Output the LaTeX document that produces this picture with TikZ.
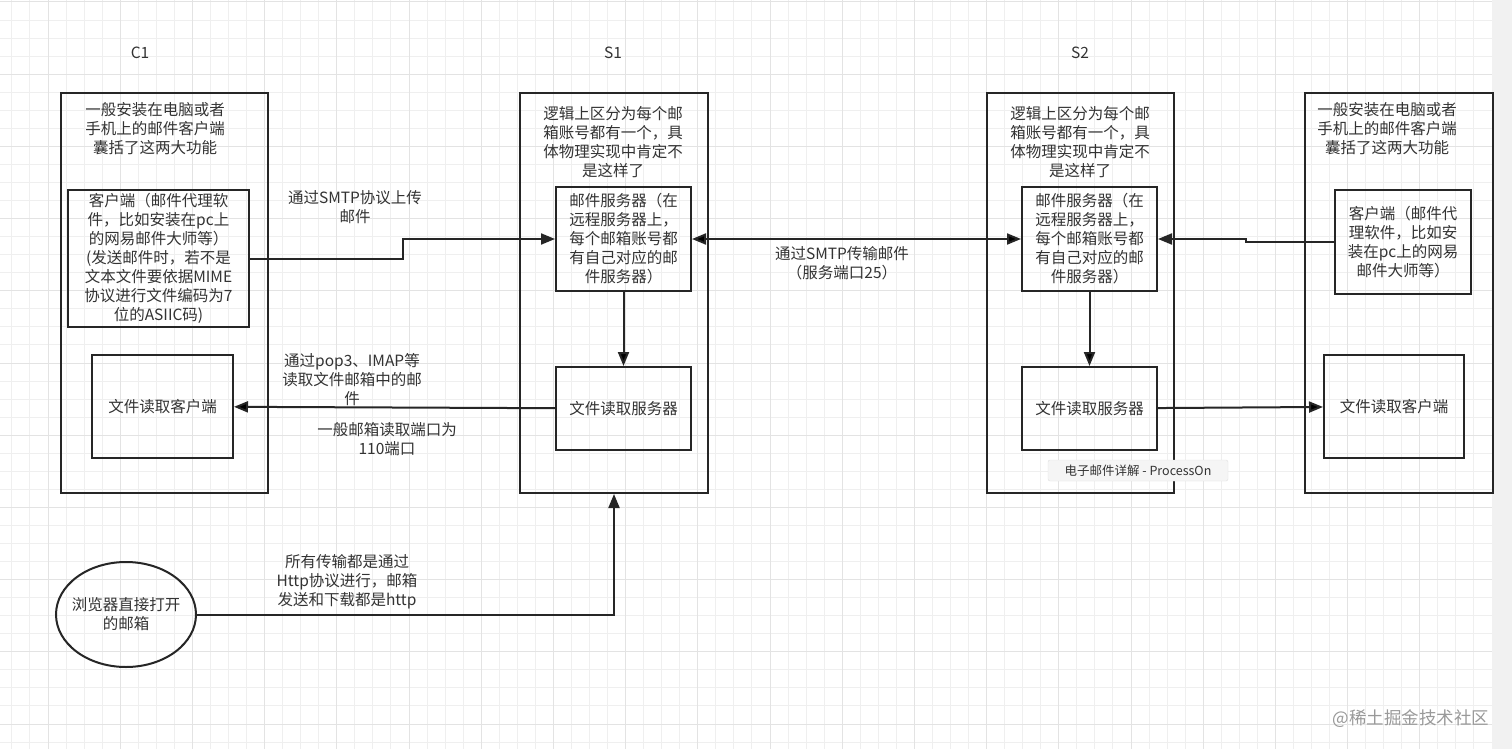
\documentclass[tikz,border=0pt]{standalone}
\usepackage{fontspec}
\setmainfont{Noto Sans CJK SC}
\usepackage{tikz}
\usetikzlibrary{positioning, arrows.meta, shapes.geometric}

\definecolor{ink}{HTML}{262626}
\definecolor{txt}{HTML}{333333}
\definecolor{minorline}{HTML}{EFEFEF}
\definecolor{majorline}{HTML}{E3E3E3}
\definecolor{bar}{HTML}{F1F1F1}

\tikzset{
    outer/.style={draw=ink, line width=2pt, inner sep=0pt},
    box/.style={draw=ink, line width=2pt, inner sep=0pt, align=center, text=txt},
    lbl/.style={align=center, text=txt, inner sep=0pt},
    wire/.style={draw=ink, line width=2pt},
    tipbox/.style={fill=white!96!black, draw=black!12, rounded corners=2pt, text=txt,
        font=\fontsize{12.5}{15}\selectfont, minimum width=180pt, minimum height=21pt, inner sep=0pt},
    wmark/.style={text=black!40, font=\fontsize{17.5}{20}\selectfont, inner sep=0pt}
}

\begin{document}
\begin{tikzpicture}[x=1pt, y=-1pt, font=\fontsize{15.5}{19}\selectfont,
    >={Triangle[length=14pt, width=11pt]}]
    \useasboundingbox (0,0) rectangle (1512,749);
    \fill[white] (0,0) rectangle (1492,749);
    \fill[bar] (1492,0) rectangle (1512,749);
    \foreach \i in {-2,...,79} \draw[minorline, line width=1pt] (48+18.05*\i,0) -- ++(0,749);
    \foreach \j in {0,...,41} \draw[minorline, line width=1pt] (0,2+18.05*\j) -- ++(1492,0);
    \foreach \i in {0,4,...,76} \draw[majorline, line width=1pt] (48+18.05*\i,0) -- ++(0,749);
    \foreach \j in {0,4,...,40} \draw[majorline, line width=1pt] (0,2+18.05*\j) -- ++(1492,0);

    \node[lbl] (n1) at (140,53) {C1};
    \node[lbl] (n2) at (613,53) {S1};
    \node[lbl] (n3) at (1080,53) {S2};

    \node[outer, minimum width=207pt, minimum height=400pt] (c1) at (164.5,293) {};
    \node[outer, minimum width=188pt, minimum height=400pt] (s1) at (614,293) {};
    \node[outer, minimum width=187pt, minimum height=400pt] (s2) at (1080.5,293) {};
    \node[outer, minimum width=188pt, minimum height=400pt] (c2) at (1399,293) {};

    \node[lbl] (t1) at (155,129) {一般安装在电脑或者\\手机上的邮件客户端\\囊括了这两大功能};
    \node[lbl] (t2) at (613,142.5) {逻辑上区分为每个邮\\箱账号都有一个，具\\体物理实现中肯定不\\是这样了};
    \node[lbl] (t3) at (1080,142.5) {逻辑上区分为每个邮\\箱账号都有一个，具\\体物理实现中肯定不\\是这样了};
    \node[lbl] (t4) at (1387,129) {一般安装在电脑或者\\手机上的邮件客户端\\囊括了这两大功能};

    \node[box, minimum width=181pt, minimum height=137pt] (c1a) at (158.5,258.5)
        {客户端（邮件代理软\\件，比如安装在pc上\\的网易邮件大师等）\\(发送邮件时，若不是\\文本文件要依据MIME\\协议进行文件编码为7\\位的ASIIC码)};
    \node[box, minimum width=141pt, minimum height=103pt] (c1b) at (162.5,406.5) {文件读取客户端};

    \node[box, minimum width=135pt, minimum height=104pt] (s1a) at (623.5,239)
        {邮件服务器（在\\远程服务器上，\\每个邮箱账号都\\有自己对应的邮\\件服务器）};
    \node[box, minimum width=135pt, minimum height=83pt, below=74pt of s1a] (s1b) {文件读取服务器};

    \node[box, minimum width=135pt, minimum height=104pt] (s2a) at (1089.5,239)
        {邮件服务器（在\\远程服务器上，\\每个邮箱账号都\\有自己对应的邮\\件服务器）};
    \node[box, minimum width=135pt, minimum height=83pt, below=74pt of s2a] (s2b) {文件读取服务器};

    \node[box, minimum width=136pt, minimum height=104pt] (c2a) at (1403,242)
        {客户端（邮件代\\理软件，比如安\\装在pc上的网易\\邮件大师等）};
    \node[box, minimum width=140pt, minimum height=103pt] (c2b) at (1394,406.5) {文件读取客户端};

    \node[box, ellipse, inner xsep=-10pt, inner ysep=-4pt, minimum width=140pt, minimum height=105pt] (e)
        at (126,614.5) {浏览器直接打开\\的邮箱};

    \node[lbl] (l1) at (355,207.5) {通过SMTP协议上传\\邮件};
    \node[lbl] (l2) at (352,380) {通过pop3、IMAP等\\读取文件邮箱中的邮\\件};
    \node[lbl] (l3) at (387,439.5) {一般邮箱读取端口为\\110端口};
    \node[lbl] (l4) at (842,263) {通过SMTP传输邮件\\（服务端口25）};
    \node[lbl] (l5) at (347,582) {所有传输都是通过\\Http协议进行，邮箱\\发送和下载都是http};

    \draw[wire]
        (s1a) edge[<->] (s2a)
        (s1a) edge[->] (s1b)
        (s1b) edge[->] (c1b)
        (s2a) edge[->] (s2b)
        (s2b) edge[->] (c2b)
        ;
    \draw[wire, ->] (c1a.east) -- ++(153,0) |- (s1a.west);
    \draw[wire, ->] (c2a.west) -- ++(-88,0) |- (s2a.east);
    \draw[wire, ->] (e.east) -| (s1.south);

    \node[tipbox] (tp) at (1138,470.5) {电子邮件详解 - ProcessOn};
    \node[wmark] (wm) at (1411,719) {@稀土掘金技术社区};
\end{tikzpicture}
\end{document}
